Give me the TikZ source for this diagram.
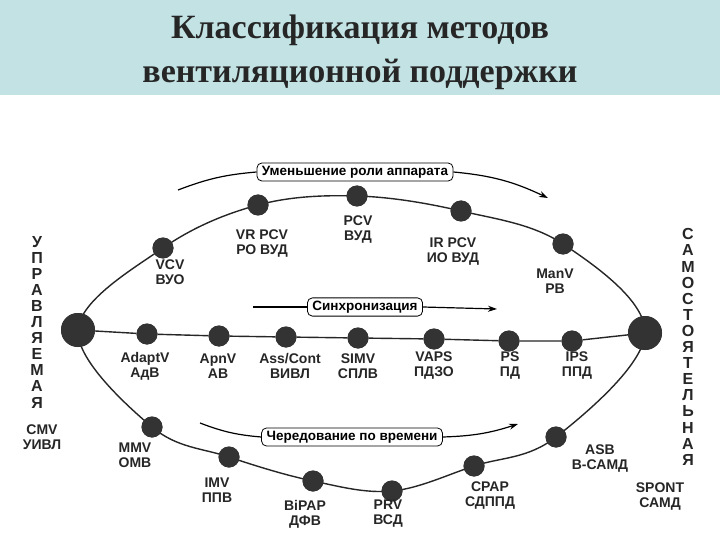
\documentclass[tikz,border=0pt]{standalone}
\usepackage{fontspec}
\setmainfont{Liberation Serif}
\newfontfamily\lab{Liberation Sans}
\usetikzlibrary{arrows.meta}
\definecolor{band}{RGB}{194,226,228}
\begin{document}
\begin{tikzpicture}[x=1pt,y=-1pt,
  dot/.style={circle,fill=black!80,inner sep=0pt,minimum size=21pt},
  bigdot/.style={circle,fill=black!80,inner sep=0pt,minimum size=34pt},
  lbl/.style={font=\lab\bfseries\fontsize{14}{15}\selectfont,align=center,text=black!85},
  tag/.style={draw,rounded corners=5pt,line width=0.8pt,font=\lab\bfseries\fontsize{13.5}{14}\selectfont,inner xsep=5pt,inner ysep=3pt,fill=white},
  vert/.style={font=\lab\bfseries\fontsize{16}{16.1}\selectfont,align=center,text=black!85},
  ln/.style={line width=1.4pt,black!85},
  arr/.style={line width=1.2pt,-{Stealth[length=9pt,width=6pt]}}]
\useasboundingbox (0,0) rectangle (720,540);
\fill[white] (0,0) rectangle (720,540);
\fill[band] (0,0) rectangle (720,95);
\node[font=\bfseries\fontsize{34}{44}\selectfont,align=center,text=black!85] (title) at (360,52) {Классификация методов\\вентиляционной поддержки};
% dots
\node[bigdot] (L) at (78,330) {};
\node[bigdot] (R) at (645,333) {};
\node[dot] (vcv) at (163,248) {};
\node[dot] (vrpcv) at (258,205) {};
\node[dot] (pcv) at (357,196) {};
\node[dot] (irpcv) at (461,211) {};
\node[dot] (manv) at (563,244) {};
\node[dot] (mmv) at (152,427) {};
\node[dot] (imv) at (229,457) {};
\node[dot] (bipap) at (313,481) {};
\node[dot] (prv) at (392,491) {};
\node[dot] (cpap) at (474,466) {};
\node[dot] (asb) at (556,437) {};
\node[dot] (adapt) at (147,334) {};
\node[dot] (apnv) at (219,336) {};
\node[dot] (ass) at (286,337) {};
\node[dot] (simv) at (358,338) {};
\node[dot] (vaps) at (434,339) {};
\node[dot] (ps) at (509,341) {};
\node[dot] (ips) at (572,341) {};
\draw[ln] plot[smooth cycle,tension=0.6] coordinates {(L) (vcv) (vrpcv) (pcv) (irpcv) (manv) (R) (asb) (cpap) (prv) (bipap) (imv) (mmv)};
\draw[ln] (L) -- (adapt) -- (apnv) -- (ass) -- (simv) -- (vaps) -- (ps) -- (ips) -- (R);
\foreach \n in {L,R} \fill[black!80] (\n) circle (17);
\foreach \n in {vcv,vrpcv,pcv,irpcv,manv,mmv,imv,bipap,prv,cpap,asb,adapt,apnv,ass,simv,vaps,ps,ips} \fill[black!80] (\n) circle (10.5);
% labels
\node[lbl] (t1) at (170,272) {VCV\\ВУО};
\node[lbl] (t2) at (262,244) {VR PCV\\РО ВУД};
\node[lbl] (t3) at (358,230) {PCV\\ВУД};
\node[lbl] (t4) at (453,252) {IR PCV\\ИО ВУД};
\node[lbl] (t5) at (555,281) {ManV\\РВ};
\node[lbl] (t6) at (145,366) {AdaptV\\АдВ};
\node[lbl] (t7) at (218,366) {ApnV\\АВ};
\node[lbl] (t8) at (290,366) {Ass/Cont\\ВИВЛ};
\node[lbl] (t9) at (358,366) {SIMV\\СПЛВ};
\node[lbl] (t10) at (434,366) {VAPS\\ПДЗО};
\node[lbl] (t11) at (510,366) {PS\\ПД};
\node[lbl] (t12) at (577,366) {IPS\\ППД};
\node[lbl] (t13) at (135,455) {MMV\\ОМВ};
\node[lbl] (t14) at (217,490) {IMV\\ППВ};
\node[lbl] (t15) at (305,514) {BiPAP\\ДФВ};
\node[lbl] (t16) at (388,514) {PRV\\ВСД};
\node[lbl] (t17) at (490,496) {CPAP\\СДППД};
\node[lbl] (t18) at (600,459) {ASB\\В-САМД};
\node[lbl] (t19) at (42,437) {CMV\\УИВЛ};
\node[lbl] (t20) at (660,497) {SPONT\\САМД};
\node[vert] (lv) at (37,322) {У\\П\\Р\\А\\В\\Л\\Я\\Е\\М\\А\\Я};
\node[vert] (rv) at (688,347) {С\\А\\М\\О\\С\\Т\\О\\Я\\Т\\Е\\Л\\Ь\\Н\\А\\Я};
% tags and arrows
\node[tag] (g1) at (355,172) {Уменьшение роли аппарата};
\coordinate (g1s) at (178,190); \coordinate (g1e) at (548,198);
\draw[line width=1.2pt] (g1s) to[bend left=8] (g1.west);
\draw[arr] (g1.east) to[bend left=10] (g1e);
\node[tag] (g2) at (365,307) {Синхронизация};
\coordinate (g2s) at (253,307); \coordinate (g2e) at (497,309);
\draw[line width=1.2pt] (g2s) -- (g2.west);
\draw[arr] (g2.east) -- (g2e);
\node[tag] (g3) at (352,437) {Чередование по времени};
\coordinate (g3s) at (200,423); \coordinate (g3e) at (518,424);
\draw[line width=1.2pt] (g3s) to[bend right=8] (g3.west);
\draw[arr] (g3.east) to[bend right=8] (g3e);
\end{tikzpicture}
\end{document}
